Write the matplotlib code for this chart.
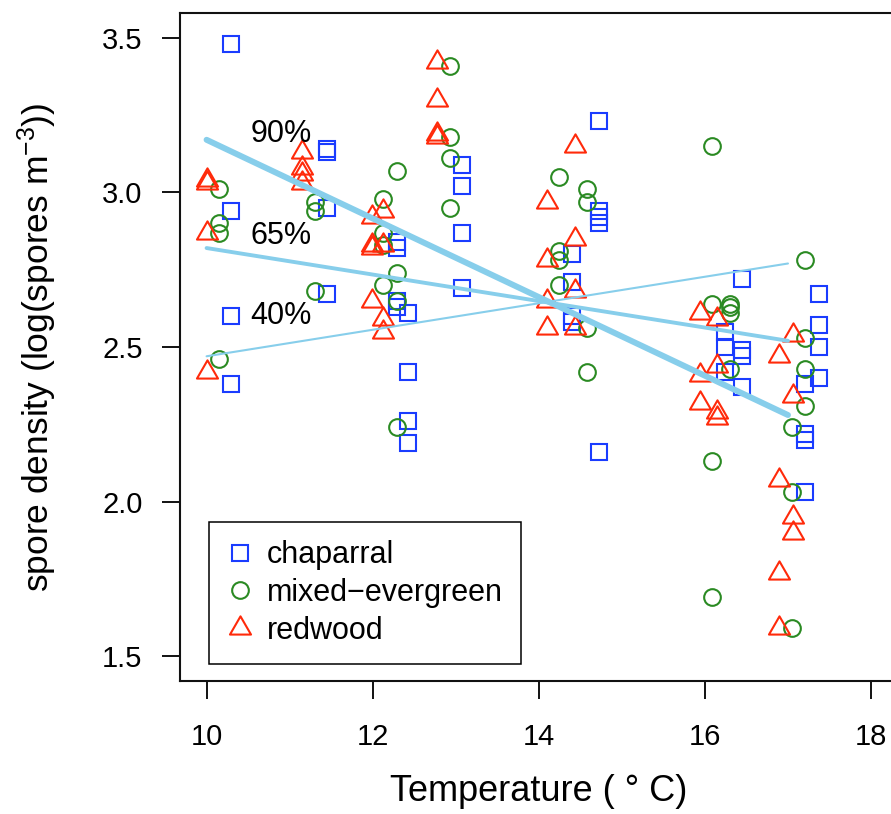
import matplotlib
matplotlib.use("Agg")
import matplotlib.pyplot as plt
from matplotlib.path import Path

plt.rcParams['font.family'] = ['Liberation Sans', 'DejaVu Sans']
plt.rcParams['mathtext.fontset'] = 'custom'
plt.rcParams['mathtext.rm'] = 'Liberation Sans'
plt.rcParams['mathtext.it'] = 'Liberation Sans:italic'
plt.rcParams['mathtext.default'] = 'regular'

# ---------------- data ----------------
chap_x = [10.30]*4 + [11.45]*4 + [12.29]*4 + [12.43]*4 + [13.08]*4 + [14.40]*4 + [14.72]*5 \
         + [16.24]*3 + [16.45]*4 + [17.20]*4 + [17.37]*4
chap_y = [3.48, 2.94, 2.60, 2.38,
          3.14, 3.13, 2.95, 2.67,
          2.84, 2.82, 2.65, 2.63,
          2.61, 2.42, 2.26, 2.19,
          3.09, 3.02, 2.87, 2.69,
          2.80, 2.71, 2.60, 2.58,
          3.23, 2.94, 2.92, 2.90, 2.16,
          2.55, 2.50, 2.42,
          2.72, 2.49, 2.47, 2.37,
          2.38, 2.22, 2.20, 2.03,
          2.67, 2.57, 2.50, 2.40]

mixed_x = [10.15]*4 + [11.30]*3 + [12.13]*4 + [12.29]*4 + [12.93]*4 + [14.24]*4 + [14.58]*4 \
          + [16.08]*4 + [16.30]*4 + [17.05]*3 + [17.20]*4
mixed_y = [3.01, 2.90, 2.87, 2.46,
           2.97, 2.94, 2.68,
           2.98, 2.87, 2.83, 2.70,
           3.07, 2.74, 2.65, 2.24,
           3.41, 3.18, 3.11, 2.95,
           3.05, 2.81, 2.78, 2.70,
           3.01, 2.97, 2.56, 2.42,
           3.15, 2.64, 2.13, 1.69,
           2.64, 2.63, 2.61, 2.43,
           2.24, 2.03, 1.59,
           2.78, 2.53, 2.43, 2.31]

red_x = [10.00]*4 + [11.15]*4 + [11.99]*4 + [12.13]*4 + [12.78]*4 + [14.10]*4 + [14.43]*4 \
        + [15.94]*3 + [16.14]*4 + [16.89]*4 + [17.06]*4
red_y = [3.04, 3.03, 2.87, 2.42,
         3.13, 3.08, 3.06, 3.03,
         2.92, 2.83, 2.82, 2.65,
         2.94, 2.83, 2.59, 2.55,
         3.42, 3.30, 3.19, 3.18,
         2.97, 2.78, 2.65, 2.56,
         3.15, 2.85, 2.68, 2.56,
         2.61, 2.41, 2.32,
         2.59, 2.44, 2.29, 2.27,
         2.47, 2.07, 1.77, 1.59,
         2.54, 2.34, 1.95, 1.90]

q_x = [10.0, 17.0]
q90 = [3.17, 2.28]
q65 = [2.82, 2.52]
q40 = [2.47, 2.77]
q_labels = ["90%", "65%", "40%"]
q_label_y = [3.19, 2.86, 2.60]

series_names = ["chaparral", "mixed\u2212evergreen", "redwood"]
x_ticks = [10, 12, 14, 16, 18]
y_ticks = [1.5, 2.0, 2.5, 3.0, 3.5]

# ---------------- figure ----------------
W, H = 891, 814
fig = plt.figure(figsize=(W/100, H/100), dpi=100)
ax = fig.add_axes([180/W, (H-681)/H, 717.6/W, 668/H])

blue = '#1a3cff'
green = '#2a8a22'
red = '#ff2a0a'

tri = Path([(0, 1.155), (-1, -0.577), (1, -0.577), (0, 1.155)],
           [Path.MOVETO, Path.LINETO, Path.LINETO, Path.CLOSEPOLY])

mew = 1.5
ax.plot(chap_x, chap_y, linestyle='none', marker='s', ms=11.3, mfc='none',
        mec=blue, mew=mew, label=series_names[0], zorder=3)
ax.plot(mixed_x, mixed_y, linestyle='none', marker='o', ms=12, mfc='none',
        mec=green, mew=mew, label=series_names[1], zorder=3)
ax.plot(red_x, red_y, linestyle='none', marker=tri, ms=17.5, mfc='none',
        mec=red, mew=mew, label=series_names[2], zorder=3)

sky = '#87ceeb'
ax.plot(q_x, q90, color=sky, lw=4.3, solid_capstyle='round', zorder=4)
ax.plot(q_x, q65, color=sky, lw=2.8, solid_capstyle='round', zorder=4)
ax.plot(q_x, q40, color=sky, lw=1.5, solid_capstyle='round', zorder=4)

for lab, yy in zip(q_labels, q_label_y):
    ax.text(10.9, yy, lab, fontsize=22, ha='center', va='center', zorder=5)

ax.set_xlim(9.68, 18.32)
ax.set_ylim(1.42, 3.58)
ax.set_xticks(x_ticks)
ax.set_xticklabels([str(t) for t in x_ticks])
ax.set_yticks(y_ticks)
ax.set_yticklabels([f"{t:.1f}" for t in y_ticks])
ax.tick_params(direction='out', length=13, width=1.4, labelsize=21,
               color='#111111')
ax.tick_params(axis='x', pad=17)
ax.tick_params(axis='y', pad=14)
for s in ax.spines.values():
    s.set_linewidth(1.5)
    s.set_color('#111111')

ax.set_xlabel("Temperature ( \u00b0 C)", fontsize=26, labelpad=17)
ax.set_ylabel("spore density (log(spores m$^{-3}$))", fontsize=25.5, labelpad=31)

leg = ax.legend(loc='lower left', bbox_to_anchor=(0.0404, 0.0254),
                borderaxespad=0, fontsize=22, frameon=True, fancybox=False,
                edgecolor='black', framealpha=1, numpoints=1,
                handlelength=0.8, handletextpad=0.5, borderpad=0.6,
                labelspacing=0.25)
leg.get_frame().set_linewidth(1.1)

fig.savefig("out.png", dpi=100)
